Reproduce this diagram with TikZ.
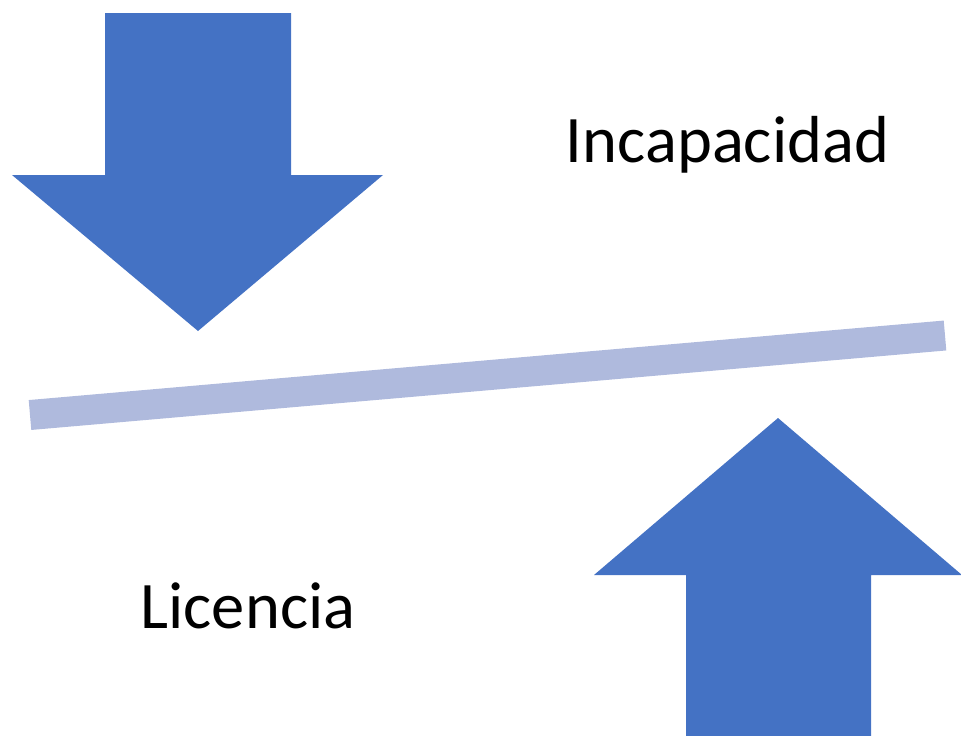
\documentclass[tikz,border=0pt]{standalone}
\usepackage{fontspec}
\setmainfont{Carlito}
\definecolor{arrowblue}{HTML}{4472C4}
\definecolor{barblue}{HTML}{AFBADD}
\begin{document}
\begin{tikzpicture}[x=1pt,y=-1pt,
  bigarrow/.style={fill=arrowblue,draw=none},
  lbl/.style={font=\fontsize{66.5}{80}\selectfont,inner sep=0pt,anchor=base}]
\useasboundingbox (0,0) rectangle (961,736);
% down arrow
\path[bigarrow] (105,13) -- (291,13) -- (291,175) -- (383,175) -- (198,331) -- (12,175) -- (105,175) -- cycle;
% up arrow
\path[bigarrow] (686,736) -- (871,736) -- (871,575) -- (962,575) -- (778,418) -- (594,575) -- (686,575) -- cycle;
% bar
\coordinate (barL) at (30,415);
\coordinate (barR) at (945,335.5);
\draw[barblue,line width=30pt] (barL) -- (barR);
% labels
\node[lbl] (inc) at (727.5,162) {Incapacidad};
\node[lbl] (lic) at (248,628) {Licencia};
\end{tikzpicture}
\end{document}
